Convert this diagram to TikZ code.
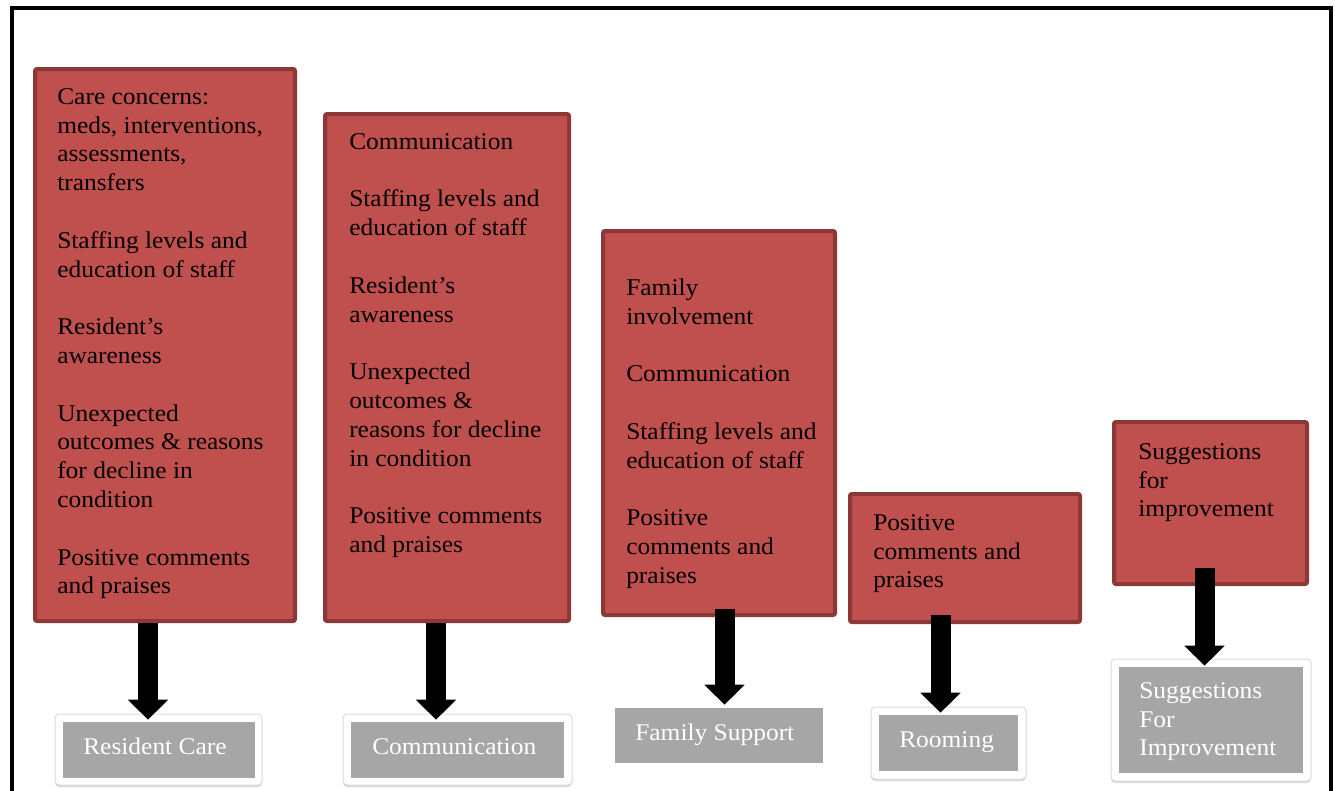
\documentclass[tikz,border=0pt]{standalone}
\usepackage{fontspec}
\setmainfont{Liberation Serif}[FakeStretch=1.06]
\usetikzlibrary{arrows.meta,fit,shadows}

\definecolor{boxred}{RGB}{192,80,77}
\definecolor{boxedge}{RGB}{140,56,54}
\definecolor{labelgray}{RGB}{166,166,166}

\begin{document}
\begin{tikzpicture}[x=0.75pt,y=-0.75pt,
  catbox/.style={fill=boxred, draw=boxedge, line width=3pt, rounded corners=1.5pt, inner sep=0pt},
  labelframe/.style={fill=white, draw=black!14, line width=0.75pt, rounded corners=3pt, inner sep=0pt,
    drop shadow={opacity=0.3, shadow xshift=0pt, shadow yshift=-1.5pt}},
  labelbox/.style={fill=labelgray, inner sep=0pt},
  itemtext/.style={anchor=north west, align=left, inner sep=0pt, text=black,
    font=\fontsize{18pt}{21.6pt}\selectfont},
  labeltext/.style={inner sep=0pt, text=white, align=left,
    font=\fontsize{18pt}{21.6pt}\selectfont},
  blockarrow/.style={draw=black, line width=15pt,
    -{Triangle[length=15pt,width=29.25pt]}}
]
\useasboundingbox (0,0) rectangle (1335,790);

% open frame around the chart
\draw[line width=3pt] (11.5,800) -- (11.5,7.5) -- (1330.5,7.5) -- (1330.5,800);

% category boxes
\node[catbox, fit={(35,69)(295,621)}] (c1) {};
\node[catbox, fit={(325,114)(569,621)}] (c2) {};
\node[catbox, fit={(603,231)(835,615)}] (c3) {};
\node[catbox, fit={(850,494)(1080,622)}] (c4) {};
\node[catbox, fit={(1114,422)(1307,584)}] (c5) {};

\node[itemtext] (t1) at (57,83.84) {\strut Care concerns:\\ meds, interventions,\\ assessments,\\ transfers\\[21.6pt]
  Staffing levels and\\ education of staff\\[21.6pt]
  Resident's\\ awareness\\[21.6pt]
  Unexpected\\ outcomes \& reasons\\ for decline in\\ condition\\[21.6pt]
  Positive comments\\ and praises};
\node[itemtext] (t2) at (349,128.84) {\strut Communication\\[21.6pt]
  Staffing levels and\\ education of staff\\[21.6pt]
  Resident's\\ awareness\\[21.6pt]
  Unexpected\\ outcomes \&\\ reasons for decline\\ in condition\\[21.6pt]
  Positive comments\\ and praises};
\node[itemtext] (t3) at (626,274.84) {\strut Family\\ involvement\\[21.6pt]
  Communication\\[21.6pt]
  Staffing levels and\\ education of staff\\[21.6pt]
  Positive\\ comments and\\ praises};
\node[itemtext] (t4) at (873,509.84) {\strut Positive\\ comments and\\ praises};
\node[itemtext] (t5) at (1138,438.84) {\strut Suggestions\\ for\\ improvement};

% category labels
\node[labelframe, fit={(55,714)(262,785)}] (f1) {};
\node[labelbox, fit={(63,722)(255,778)}] (l1) {};
\node[labelframe, fit={(343,714)(572,785)}] (f2) {};
\node[labelbox, fit={(351,722)(564,778)}] (l2) {};
\node[labelbox, fit={(615,708)(823,763)}] (l3) {};
\node[labelframe, fit={(871,707)(1026,779)}] (f4) {};
\node[labelbox, fit={(879,715)(1018,771)}] (l4) {};
\node[labelframe, fit={(1111,659)(1311,781)}] (f5) {};
\node[labelbox, fit={(1119,667)(1303,773)}] (l5) {};

\node[labeltext, anchor=base west] (n1) at (83,754) {Resident Care};
\node[labeltext, anchor=base west] (n2) at (372,754) {Communication};
\node[labeltext, anchor=base west] (n3) at (635,740) {Family Support};
\node[labeltext, anchor=base west] (n4) at (899,747) {Rooming};
\node[labeltext, anchor=north west] (n5) at (1139,677.84) {\strut Suggestions\\ For\\ Improvement};

% arrows from each box to its category
\coordinate (ax1) at (148,0);
\coordinate (ax2) at (436,0);
\coordinate (ax3) at (724.5,0);
\coordinate (ax4) at (940.5,0);
\coordinate (ax5) at (1204.5,0);

\draw[blockarrow, shorten >=1.5pt] (c1.south -| ax1) -- (l1.north -| ax1);
\draw[blockarrow, shorten >=1.5pt] (c2.south -| ax2) -- (l2.north -| ax2);
\draw[blockarrow, shorten <=-6pt, shorten >=2.25pt] (c3.south -| ax3) -- (l3.north -| ax3);
\draw[blockarrow, shorten <=-6.75pt, shorten >=1.5pt] (c4.south -| ax4) -- (l4.north -| ax4);
\draw[blockarrow, shorten <=-13.5pt, shorten >=0.75pt] (c5.south -| ax5) -- (l5.north -| ax5);
\end{tikzpicture}
\end{document}
